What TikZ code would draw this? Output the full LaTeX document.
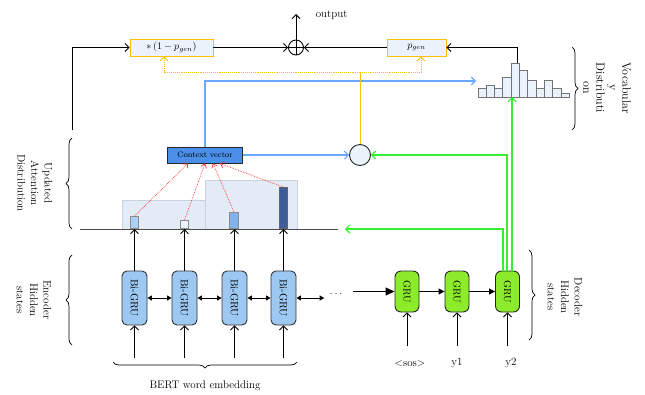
\documentclass[tikz,border=0pt]{standalone}
\usetikzlibrary{arrows.meta,decorations.pathreplacing}
\definecolor{encblue}{HTML}{9DC8F2}
\definecolor{grugreen}{HTML}{8CEB2A}
\definecolor{ctxblue}{HTML}{4B8FE8}
\definecolor{lineblue}{HTML}{6AA7FF}
\definecolor{gateorange}{HTML}{FFC000}
\definecolor{linegreen}{RGB}{55,238,55}
\definecolor{attred}{HTML}{FF3030}
\definecolor{paleblue}{HTML}{EAF2FB}
\definecolor{attshade}{HTML}{E3ECF6}
\definecolor{attshadeedge}{HTML}{C9D3DD}
\tikzset{
  lbl/.style={font=\fontsize{11}{13.5}\selectfont},
  sidelbl/.style={lbl, rotate=-90, align=center},
  barb/.style={-{Straight Barb[length=4pt,width=8pt]}},
  fillarrow/.style={-{Triangle[length=6pt,width=6pt]}},
  bothfill/.style={{Triangle[length=4.5pt,width=5pt]}-{Triangle[length=4.5pt,width=5pt]}},
  bigru/.style={draw=black!80, fill=encblue, rounded corners=5pt, minimum width=25pt,
    minimum height=54pt, inner sep=0pt, font=\fontsize{10.5}{12}\selectfont},
  gru/.style={draw=black!85, fill=grugreen, rounded corners=6pt, minimum width=24pt,
    minimum height=41pt, inner sep=0pt, line width=0.9pt, font=\fontsize{10}{12}\selectfont},
  gatebox/.style={draw=gateorange, fill=paleblue, line width=0.9pt, minimum height=17pt,
    inner sep=0pt},
  attbar/.style={draw=black!45, anchor=south, minimum width=8.5pt, inner sep=0pt},
  histbar/.style={draw=black!55, fill=paleblue},
  redarrow/.style={draw=attred, densely dotted, line width=0.7pt,
    -{Straight Barb[length=3.5pt,width=6pt]}},
  bluearrow/.style={draw=lineblue, line width=1.1pt, -{Straight Barb[length=4pt,width=8pt]}},
  greenarrow/.style={draw=linegreen, line width=1.1pt, -{Straight Barb[length=4pt,width=8pt]}},
  orangedot/.style={draw=gateorange, densely dotted, line width=0.9pt,
    -{Straight Barb[length=4pt,width=8pt]}},
  bracedeco/.style={decorate, decoration={brace, amplitude=6pt}, line width=0.7pt},
}
\begin{document}
\begin{tikzpicture}[x=1pt, y=-1pt, line width=0.9pt]
\useasboundingbox (0,0) rectangle (645,394);

% ---------- encoder ----------
\foreach \i/\x in {1/134.5,2/184.5,3/234.5,4/283.5}{
  \node[bigru] (e\i) at (\x,298) {\rotatebox{-90}{Bi-GRU}};
  \coordinate (ein\i) at (\x,358);
  \draw[barb] (ein\i) -- (e\i.south);
}
\node[inner sep=1pt, font=\fontsize{11}{13}\selectfont] (dots) at (336,294) {.\,.\,.};
\draw[bothfill] (e1.east) -- (e2.west);
\draw[bothfill] (e2.east) -- (e3.west);
\draw[bothfill] (e3.east) -- (e4.west);
\draw[bothfill] (e4.east) -- ([xshift=-4pt]dots.west |- e4.east);

% ---------- decoder ----------
\foreach \i/\x in {1/407,2/457,3/507.5}{
  \node[gru] (g\i) at (\x,291.5) {\rotatebox{-90}{GRU}};
  \coordinate (gin\i) at (\x,346);
  \draw[barb] (gin\i) -- (g\i.south);
}
\coordinate (dstart) at (353,291.5);
\draw[-{Triangle[length=9pt,width=8pt]}] (dstart) -- (g1.west);
\draw[fillarrow] (g1.east) -- (g2.west);
\draw[fillarrow] (g2.east) -- (g3.west);
\node[lbl] (sos) at (410,364) {\textless{}sos\textgreater{}};
\node[lbl] (y1) at (457,363) {y1};
\node[lbl] (y2) at (511,363) {y2};

% ---------- attention distribution ----------
\filldraw[fill=attshade, draw=attshadeedge] (122,200) rectangle (205,229);
\filldraw[fill=attshade, draw=attshadeedge] (205,180) rectangle (297,229);
\coordinate (baseL) at (80,229);
\coordinate (baseR) at (338,229);
\draw[black!70] (baseL) -- (baseR);
\node[attbar, fill=encblue!85, minimum height=12pt] (a1) at (134.5,229) {};
\node[attbar, fill=paleblue, minimum height=8pt] (a2) at (184.5,229) {};
\node[attbar, fill=ctxblue!70, minimum height=16pt] (a3) at (234,229) {};
\node[attbar, fill={rgb,255:red,60;green,92;blue,158}, draw=black!60, minimum height=41pt] (a4) at (283.5,229) {};
\foreach \i in {1,...,4}{
  \draw[barb] (e\i.north) -- (e\i.north |- baseL);
}

\node[draw=black!85, fill=ctxblue, minimum width=75pt, minimum height=16pt, inner sep=0pt,
  font=\fontsize{8}{10}\selectfont] (ctx) at (205,155) {Context vector};
\draw[redarrow] (a1.north) -- ([xshift=-17pt]ctx.south);
\draw[redarrow] (a2.north) -- ([xshift=0pt]ctx.south);
\draw[redarrow] (a3.north) -- ([xshift=8pt]ctx.south);
\draw[redarrow] (a4.north) -- ([xshift=15pt]ctx.south);

% ---------- merge point ----------
\node[circle, draw=black!85, fill=paleblue, minimum size=21pt, inner sep=0pt] (mix) at (360,155) {};
\draw[bluearrow] (ctx.east) -- (mix.west);

% ---------- vocabulary distribution ----------
\foreach \k/\t in {0/88,1/85,2/88,3/77,4/63,5/70,6/80,7/88,8/80,9/88,10/93}{
  \draw[histbar] ({478+\k*8.3},97) rectangle ({478+(\k+1)*8.3},\t);
}
\coordinate (histL) at (476,81);
\coordinate (histtop) at (517,63);
\coordinate (histbot) at (512,97);
\draw[bluearrow] (ctx.north) |- (histL);

% ---------- gate and output ----------
\node[gatebox, minimum width=83pt] (onem) at (171.5,47.5) {$*\left(1-p_{gen}\right)$};
\node[gatebox, minimum width=59pt] (pgen) at (416.5,47.5) {$p_{gen}$};
\node[circle, draw, minimum size=15pt, inner sep=0pt,
  path picture={\draw (path picture bounding box.north) -- (path picture bounding box.south)
                      (path picture bounding box.west) -- (path picture bounding box.east);}] (sum) at (296,47.5) {};
\coordinate (outtip) at (296,14);
\node[lbl, anchor=west] (outlbl) at (312,15) {output};
\draw[barb] (sum.north) -- (outtip);
\draw[barb] (onem.east) -- (sum.west);
\draw[barb] (pgen.west) -- (sum.east);
\draw[barb] (histtop) |- (pgen.east);
\coordinate (leftend) at (72,130);
\draw[barb] (leftend) |- (onem.west);

\coordinate (ojoin) at (360,72);
\draw[gateorange, line width=1pt] (mix.north) -- (ojoin);
\draw[orangedot] (ojoin) -| ([xshift=-7.5pt]onem.south);
\draw[orangedot] (ojoin) -| ([xshift=4.5pt]pgen.south);

% ---------- decoder state feeds ----------
\coordinate (battn) at (345,229);
\draw[greenarrow] ([xshift=-4.5pt]g3.north) |- (battn);
\draw[greenarrow] ([xshift=-0.5pt]g3.north) |- (mix.east);
\draw[greenarrow] (histbot |- g3.north) -- (histbot);

% ---------- braces and side labels ----------
\draw[bracedeco] (72,229) -- (72,138);
\draw[bracedeco] (72,345) -- (72,255);
\draw[bracedeco] (572,47) -- (572,130);
\draw[bracedeco] (529,250) -- (529,340);
\draw[bracedeco] (297,362) -- (113,362);
\node[sidelbl] (lattn) at (35,183) {Updated\\Attention\\Distribution};
\node[sidelbl] (lenc) at (34,300) {Encoder\\Hidden\\states};
\node[sidelbl, font=\fontsize{12}{13}\selectfont] (lvoc) at (607,88) {Vocabular\\y\\Distributi\\on};
\node[sidelbl] (ldec) at (565,297) {Decoder\\Hidden\\states};
\node[lbl] (lbert) at (205,386) {BERT word embedding};
\end{tikzpicture}
\end{document}
